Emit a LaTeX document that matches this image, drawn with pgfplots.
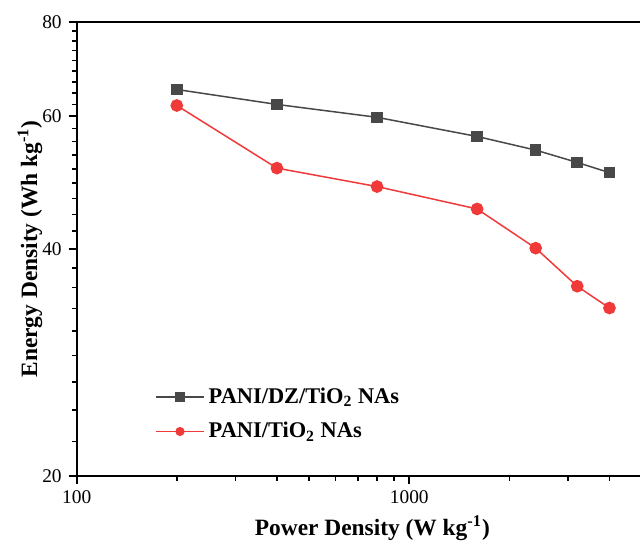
\documentclass[border=0pt]{standalone}
\usepackage{pgfplots}
\pgfplotsset{compat=1.18}
\usepackage{fontspec}
\setmainfont{Liberation Serif}
\definecolor{sgray}{RGB}{72,72,72}
\definecolor{sred}{RGB}{240,58,58}
\begin{document}
\begin{tikzpicture}[x=1pt,y=1pt]
\useasboundingbox (-38.35,-32) rectangle (281.65,238);
\begin{axis}[
  at={(0,0)}, anchor=south west,
  scale only axis, width=295.65pt, height=227pt,
  xmode=log, ymode=log,
  xmin=100, xmax=6000, ymin=20, ymax=80,
  xtick={100,1000}, xticklabels={100,1000},
  minor xtick={200,300,400,500,600,700,800,900,2000,3000,4000,5000},
  ytick={20,40,60,80}, yticklabels={20,40,60,80},
  minor ytick={22.222,24.444,26.667,28.889,31.111,33.333,35.556,37.778,
               42.222,44.444,46.667,48.889,51.111,53.333,55.556,57.778,
               62.222,64.444,66.667,68.889,71.111,73.333,75.556,77.778},
  /pgf/number format/assume math mode=true,
  tick align=outside, xtick pos=left, ytick pos=left,
  major tick length=4pt, minor tick length=2.3pt,
  axis line style={line width=1pt},
  every tick/.style={line width=0.8pt, black},
  tick label style={font=\fontsize{9.7}{11}\selectfont},
  label style={font=\fontsize{11.7}{14}\selectfont\bfseries},
  xlabel={Power Density (W kg\textsuperscript{-1})},
  ylabel={Energy Density (Wh kg\textsuperscript{-1})},
  xlabel style={at={(axis description cs:0.5,-0.1145)}, anchor=center},
  ylabel style={at={(axis description cs:-0.079,0.5)}, anchor=center},
  legend cell align=left,
  legend style={at={(axis description cs:0.122,0.213)}, anchor=north west,
    draw=none, fill=none, font=\fontsize{11.2}{13}\selectfont\bfseries, row sep=4pt,
    /tikz/every even column/.append style={column sep=1pt}},
  legend image code/.code={\draw[mark repeat=2,mark phase=2,mark size=1.9pt] plot coordinates {(0pt,0pt) (12pt,0pt) (24pt,0pt)};},
]
\addplot[color=sgray, line width=0.75pt, mark=square*, mark size=2.5pt,
  mark options={fill=sgray, draw=sgray}]
  coordinates {(200,65.1) (400,62.2) (800,59.8) (1600,56.4) (2400,54.1) (3200,52.1) (4000,50.5)};
\addlegendentry{PANI/DZ/TiO\textsubscript{2} NAs}
\addplot[color=sred, line width=0.75pt, mark=*, mark size=2.8pt,
  mark options={fill=sred, draw=sred}]
  coordinates {(200,62.0) (400,51.2) (800,48.4) (1600,45.2) (2400,40.1) (3200,35.7) (4000,33.4)};
\addlegendentry{PANI/TiO\textsubscript{2} NAs}
\end{axis}
\end{tikzpicture}
\end{document}
